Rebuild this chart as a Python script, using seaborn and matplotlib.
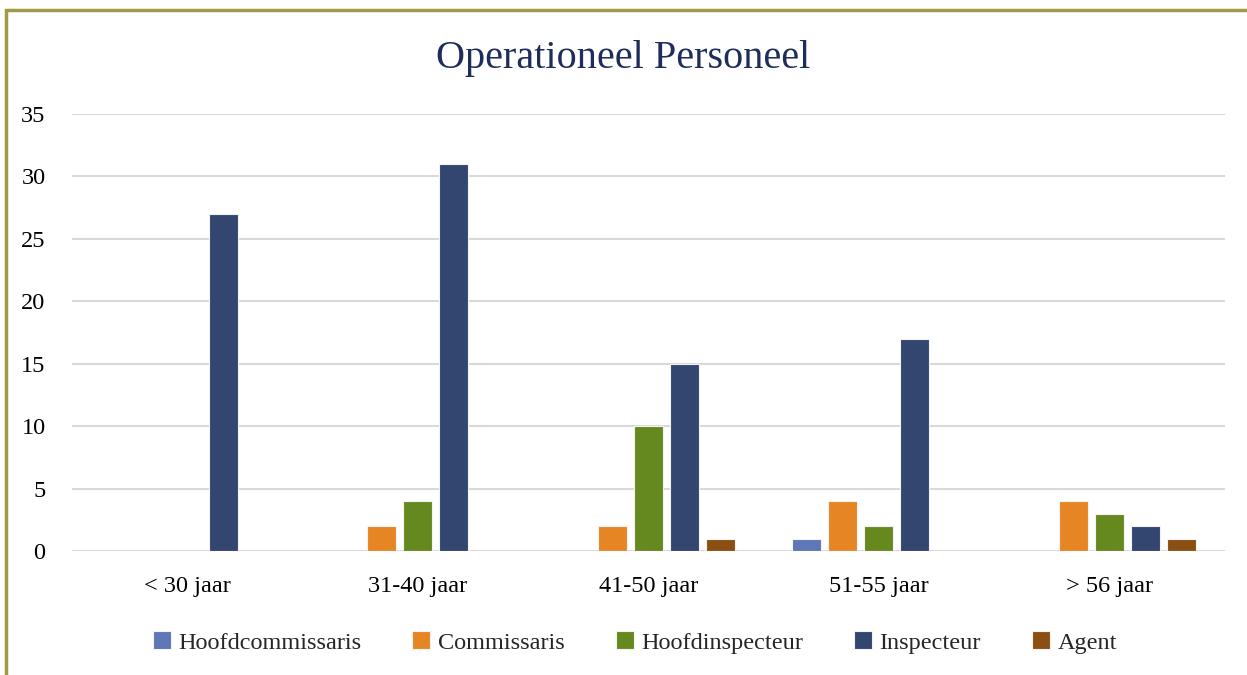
import pandas as pd
import matplotlib.pyplot as plt
import seaborn as sns
from matplotlib.patches import Rectangle

# Data
categories = ['< 30 jaar', '31-40 jaar', '41-50 jaar', '51-55 jaar', '> 56 jaar']
series = ['Hoofdcommissaris', 'Commissaris', 'Hoofdinspecteur', 'Inspecteur', 'Agent']
hoofdcommissaris = [0, 0, 0, 1, 0]
commissaris = [0, 2, 2, 4, 4]
hoofdinspecteur = [0, 4, 10, 2, 3]
inspecteur = [27, 31, 15, 17, 2]
agent = [0, 0, 1, 0, 1]
colors = ['#5F77B7', '#E68524', '#66891F', '#33466F', '#8C4F13']

values = [hoofdcommissaris, commissaris, hoofdinspecteur, inspecteur, agent]
rows = []
for name, vals in zip(series, values):
    for cat, v in zip(categories, vals):
        rows.append({'categorie': cat, 'functie': name, 'aantal': v})
df = pd.DataFrame(rows)

sns.set_style('white')
plt.rcParams['font.family'] = ['Liberation Serif', 'DejaVu Serif']

fig = plt.figure(figsize=(12.47, 6.75), dpi=100)
ax = fig.add_axes([0.0577, 0.1837, 0.9243, 0.6474])

sns.barplot(data=df, x='categorie', y='aantal', hue='functie', order=categories,
            hue_order=series, palette=colors, saturation=1, width=0.78, gap=0.2,
            edgecolor='#F3F3F3', linewidth=0.8, ax=ax, legend=True)

ax.set_ylim(0, 35)
ax.set_yticks(range(0, 36, 5))
ax.yaxis.grid(True, color='#D9D9D9', linewidth=1.5)
ax.set_axisbelow(True)
ax.set_xlim(-0.5, len(categories) - 0.5)
for s in ax.spines.values():
    s.set_visible(False)
ax.set_xlabel('')
ax.set_ylabel('')
ax.tick_params(axis='both', length=0, labelsize=17.5, colors='#000000')
ax.tick_params(axis='x', pad=18)
ax.tick_params(axis='y', pad=19)

fig.text(0.5, 0.913, 'Operationeel Personeel', ha='center', va='center',
         fontsize=29, color='#1F2D5C')

handles, labels = ax.get_legend_handles_labels()
ax.legend_.remove()
fig.legend(handles, labels, loc='center', bbox_to_anchor=(0.509, 0.048), ncol=5,
           frameon=False, fontsize=17.5, handlelength=0.75, handleheight=0.75,
           handletextpad=0.3, columnspacing=2.1)

# olive border around the chart area
fig.patches.append(Rectangle((6 / 1247, -0.1), 1.2, 1 - 10 / 675 + 0.1,
                             transform=fig.transFigure, fill=False,
                             edgecolor='#A09A45', linewidth=2.5))

fig.savefig('out.png', dpi=100)
